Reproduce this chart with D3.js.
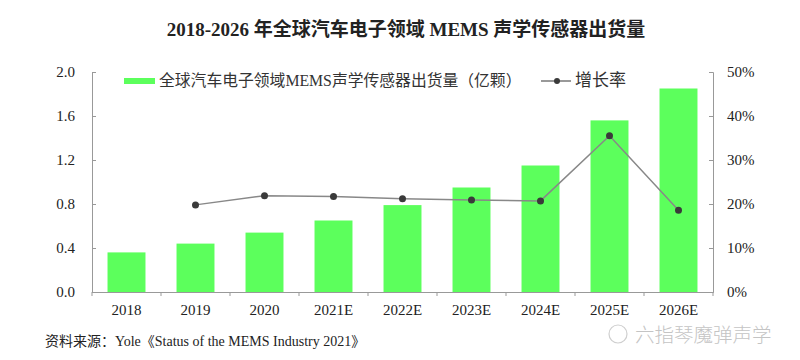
<!DOCTYPE html>
<html>
<head>
<meta charset="utf-8">
<script src="https://cdn.jsdelivr.net/npm/d3@7"></script>
<style>
  body { margin: 0; background: #fff; }
  text { font-family: "Liberation Serif", "Noto Sans CJK SC", serif; fill: #222; }
</style>
</head>
<body>
<div id="chart"></div>
<script>
const years = ['2018', '2019', '2020', '2021E', '2022E', '2023E', '2024E', '2025E', '2026E'];
const shipments = [0.36, 0.44, 0.54, 0.65, 0.79, 0.95, 1.15, 1.56, 1.85];
const growth = [null, 19.8, 21.9, 21.7, 21.2, 20.9, 20.7, 35.5, 18.6];
const leftTicks = [0, 0.4, 0.8, 1.2, 1.6, 2.0];
const rightTicks = [0, 10, 20, 30, 40, 50];

const width = 800, height = 360;
const margin = { top: 72, right: 87, bottom: 68, left: 92 };
const innerW = width - margin.left - margin.right;
const innerH = height - margin.top - margin.bottom;

const svg = d3.select('#chart').append('svg')
  .attr('width', width)
  .attr('height', height);

// title
svg.append('text')
  .attr('x', 406)
  .attr('y', 36)
  .attr('text-anchor', 'middle')
  .style('font-size', '19px')
  .style('font-weight', 'bold')
  .text('2018-2026 年全球汽车电子领域 MEMS 声学传感器出货量');

const g = svg.append('g')
  .attr('transform', `translate(${margin.left},${margin.top})`);

const x = d3.scaleBand().domain(years).range([0, innerW]).paddingInner(0.45).paddingOuter(0.225);
const band = d3.scaleBand().domain(years).range([0, innerW]);
const y = d3.scaleLinear().domain([0, 2]).range([innerH, 0]);
const y2 = d3.scaleLinear().domain([0, 50]).range([innerH, 0]);

// bars
g.selectAll('.bar')
  .data(years)
  .enter()
  .append('rect')
  .attr('class', 'bar')
  .attr('x', d => x(d))
  .attr('width', x.bandwidth())
  .attr('y', (d, i) => y(shipments[i]))
  .attr('height', (d, i) => innerH - y(shipments[i]))
  .attr('fill', '#5cff5c');

// left axis
const leftAxis = g.append('g')
  .call(d3.axisLeft(y).tickValues(leftTicks).tickFormat(d3.format('.1f')).tickSize(-4).tickPadding(17));
leftAxis.selectAll('text').style('font-size', '15px');

// right axis
const rightAxis = g.append('g')
  .attr('transform', `translate(${innerW},0)`)
  .call(d3.axisRight(y2).tickValues(rightTicks).tickFormat(d => d + '%').tickSize(-4).tickPadding(14));
rightAxis.selectAll('text').style('font-size', '15px');

// bottom axis
const bottomAxis = g.append('g')
  .attr('transform', `translate(0,${innerH})`)
  .call(d3.axisBottom(band).tickSize(0).tickPadding(12));
bottomAxis.selectAll('text').style('font-size', '15px');
bottomAxis.selectAll('.bnd')
  .data(d3.range(years.length + 1))
  .enter()
  .append('line')
  .attr('class', 'bnd')
  .attr('x1', i => i * band.step())
  .attr('x2', i => i * band.step())
  .attr('y1', 0)
  .attr('y2', 4)
  .attr('stroke', '#999');

[leftAxis, rightAxis, bottomAxis].forEach(a => {
  a.selectAll('path, line').attr('stroke', '#999');
});

// growth line
const pts = years.map((d, i) => ({ year: d, v: growth[i] })).filter(d => d.v !== null);
const line = d3.line()
  .x(d => band(d.year) + band.bandwidth() / 2)
  .y(d => y2(d.v));

g.append('path')
  .datum(pts)
  .attr('fill', 'none')
  .attr('stroke', '#888')
  .attr('stroke-width', 1.5)
  .attr('d', line);

g.selectAll('.dot')
  .data(pts)
  .enter()
  .append('circle')
  .attr('class', 'dot')
  .attr('cx', d => band(d.year) + band.bandwidth() / 2)
  .attr('cy', d => y2(d.v))
  .attr('r', 3.5)
  .attr('fill', '#3a3a3a');

// legend
const legend = svg.append('g');
legend.append('rect')
  .attr('x', 124).attr('y', 78)
  .attr('width', 31).attr('height', 6)
  .attr('fill', '#5cff5c');
legend.append('text')
  .attr('x', 159).attr('y', 86)
  .style('font-size', '15.8px')
  .style('fill', '#333')
  .text('全球汽车电子领域MEMS声学传感器出货量（亿颗）');
legend.append('line')
  .attr('x1', 541).attr('x2', 571)
  .attr('y1', 81).attr('y2', 81)
  .attr('stroke', '#555').attr('stroke-width', 1.2);
legend.append('circle')
  .attr('cx', 557).attr('cy', 81).attr('r', 3)
  .attr('fill', '#3a3a3a');
legend.append('text')
  .attr('x', 575).attr('y', 86)
  .style('font-size', '17px')
  .style('fill', '#333')
  .text('增长率');

// source
svg.append('text')
  .attr('x', 45).attr('y', 346)
  .style('font-size', '14px')
  .text('资料来源：Yole《Status of the MEMS Industry 2021》');

// watermark
svg.append('text')
  .attr('x', 635).attr('y', 342)
  .style('font-size', '19.5px')
  .style('font-family', '"Noto Sans CJK SC", sans-serif')
  .style('font-weight', '300')
  .style('fill', '#c4c4c4')
  .text('六指琴魔弹声学');
svg.append('circle')
  .attr('cx', 618).attr('cy', 334).attr('r', 9)
  .attr('fill', 'none').attr('stroke', '#cfcfcf').attr('stroke-width', 1.2);
</script>
</body>
</html>
